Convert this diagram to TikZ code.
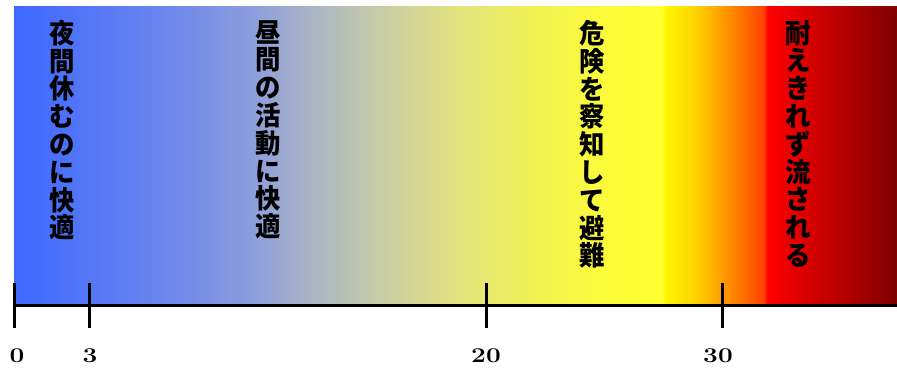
\documentclass[tikz,border=0pt]{standalone}
\usepackage{fontspec}
\newfontfamily\cjk{Noto Sans CJK JP}
\definecolor{c14}{HTML}{3D68FF}
\definecolor{c164}{HTML}{6A85EE}
\definecolor{c250}{HTML}{8C9DDD}
\definecolor{c310}{HTML}{A9B4C6}
\definecolor{c380}{HTML}{C8CCA6}
\definecolor{c460}{HTML}{E3E37E}
\definecolor{c540}{HTML}{F2F250}
\definecolor{c610}{HTML}{FCFC38}
\definecolor{c661}{HTML}{FFFF30}
\definecolor{c663}{HTML}{FFF800}
\definecolor{c700}{HTML}{FFCC00}
\definecolor{c760}{HTML}{FF4A00}
\definecolor{c765}{HTML}{FF3A00}
\definecolor{c767}{HTML}{FF0000}
\definecolor{c897}{HTML}{800000}
\pgfdeclarehorizontalshading{heatbar}{100bp}{%
color(0bp)=(c14);
color(25bp)=(c14);
color(33.3bp)=(c164);
color(38.4bp)=(c250);
color(41.8bp)=(c310);
color(45.8bp)=(c380);
color(50.3bp)=(c460);
color(54.8bp)=(c540);
color(58.8bp)=(c610);
color(61.7bp)=(c661);
color(61.85bp)=(c663);
color(63.85bp)=(c700);
color(67.25bp)=(c760);
color(67.5bp)=(c765);
color(67.64bp)=(c767);
color(75bp)=(c897);
color(100bp)=(c897)}
\begin{document}
\begin{tikzpicture}[x=1pt,y=-1pt,
  vlabel/.style={font=\cjk\bfseries\fontsize{27}{27.8}\selectfont,align=center,anchor=north,inner sep=0pt,xscale=0.94,transform shape},
  numlabel/.style={font=\bfseries\fontsize{21}{21}\selectfont,xscale=1.25,transform shape,inner sep=0pt,anchor=base},
  axisline/.style={line width=3pt,black},
  ticklines/.style={line width=3pt,black}]
\useasboundingbox (0,0) rectangle (897,367);
\fill[white] (0,0) rectangle (897,367);
\shade[shading=heatbar] (14,6) rectangle (897,305);
% text columns
\node[vlabel] (t1) at (62,20) {夜\\間\\休\\む\\の\\に\\快\\適};
\node[vlabel] (t2) at (268,20) {昼\\間\\の\\活\\動\\に\\快\\適};
\node[vlabel] (t3) at (592,20) {危\\険\\を\\察\\知\\し\\て\\避\\難};
\node[vlabel] (t4) at (798,20) {耐\\え\\き\\れ\\ず\\流\\さ\\れ\\る};
% axis
\coordinate (a0) at (14,305);
\coordinate (aend) at (897,305);
\draw[axisline] (a0) -- (aend);
\foreach \n/\x in {k0/14,k3/89,k20/486,k30/722}{
  \coordinate (\n top) at (\x,283);
  \coordinate (\n bot) at (\x,328);
  \draw[ticklines] (\n top) -- (\n bot);
}
\node[numlabel] (n0) at (17,362) {0};
\node[numlabel] (n3) at (90,362) {3};
\node[numlabel] (n20) at (486,362) {20};
\node[numlabel] (n30) at (718,362) {30};
\end{tikzpicture}
\end{document}
